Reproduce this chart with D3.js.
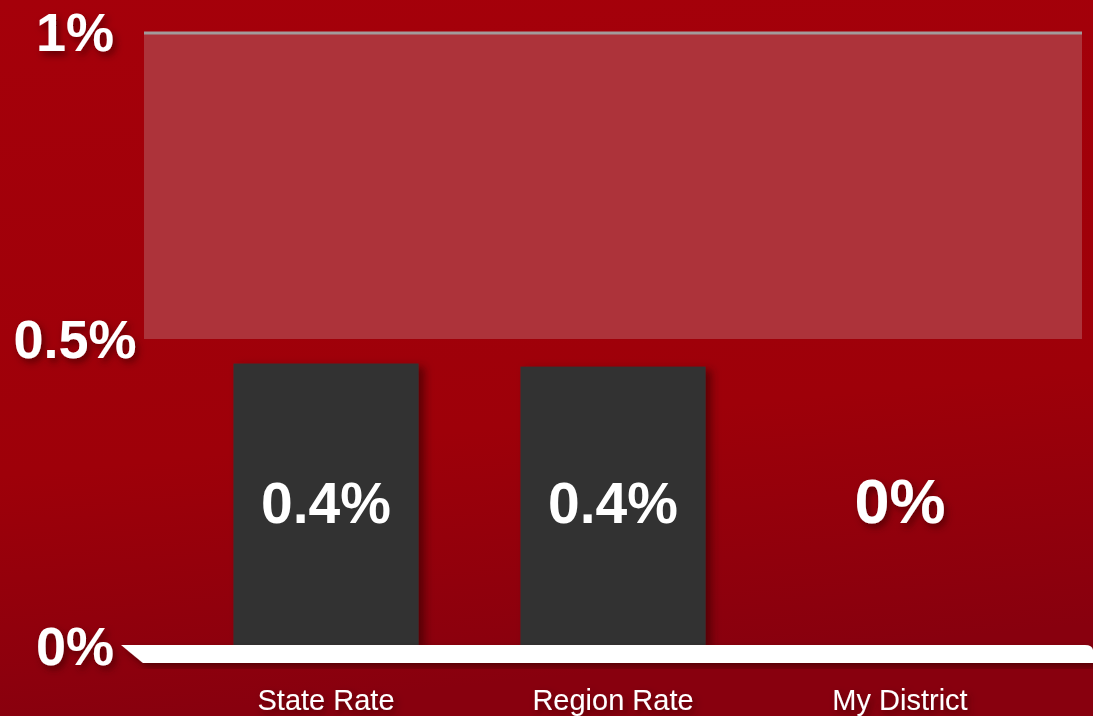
<!DOCTYPE html>
<html>
<head>
<meta charset="utf-8">
<script src="https://cdn.jsdelivr.net/npm/d3@7"></script>
<style>
  html, body { margin: 0; padding: 0; background: #a0000a; }
  svg { display: block; }
</style>
</head>
<body>
<script>
// chart data
const categories = ["State Rate", "Region Rate", "My District"];
const values = [0.46, 0.455, 0];
const valueLabels = ["0.4%", "0.4%", "0%"];
const yTicks = [0, 0.5, 1];
const yTickLabels = ["0%", "0.5%", "1%"];
const goalRange = [0.5, 1];

const width = 1093, height = 716;

const svg = d3.select("body").append("svg")
    .attr("width", width)
    .attr("height", height)
    .attr("font-family", "Arial, 'Liberation Sans', sans-serif");

const defs = svg.append("defs");

const bg = defs.append("linearGradient")
    .attr("id", "bg")
    .attr("x1", 0).attr("y1", 0).attr("x2", 0.15).attr("y2", 1);
bg.append("stop").attr("offset", "0%").attr("stop-color", "#a5000a");
bg.append("stop").attr("offset", "65%").attr("stop-color", "#9e0009");
bg.append("stop").attr("offset", "100%").attr("stop-color", "#88000e");

const shadow = defs.append("filter")
    .attr("id", "shadow")
    .attr("x", "-20%").attr("y", "-20%").attr("width", "140%").attr("height", "150%");
shadow.append("feDropShadow")
    .attr("dx", 3).attr("dy", 4).attr("stdDeviation", 3.5)
    .attr("flood-color", "#3a0000").attr("flood-opacity", 0.65);

const barShadow = defs.append("filter")
    .attr("id", "barShadow")
    .attr("x", "-10%").attr("y", "-10%").attr("width", "130%").attr("height", "130%");
barShadow.append("feDropShadow")
    .attr("dx", 6).attr("dy", 3).attr("stdDeviation", 4)
    .attr("flood-color", "#300000").attr("flood-opacity", 0.6);

svg.append("rect")
    .attr("width", width).attr("height", height)
    .attr("fill", "url(#bg)");

const x = d3.scaleBand()
    .domain(categories)
    .range([182.5, 1043.5])
    .paddingInner(0.355)
    .paddingOuter(0.1775);

const y = d3.scaleLinear()
    .domain([0, 1])
    .range([646, 32]);

// goal band 0.5% - 1%
svg.append("rect")
    .attr("x", 144)
    .attr("width", 1082 - 144)
    .attr("y", y(goalRange[1]))
    .attr("height", y(goalRange[0]) - y(goalRange[1]))
    .attr("fill", "#ad333a");

svg.append("line")
    .attr("x1", 144).attr("x2", 1082)
    .attr("y1", y(goalRange[1]) + 1).attr("y2", y(goalRange[1]) + 1)
    .attr("stroke", "#a39a9a")
    .attr("stroke-width", 3);

// bars
svg.append("g")
  .selectAll("rect")
  .data(values.map((v, i) => ({cat: categories[i], v})).filter(d => d.v > 0))
  .join("rect")
    .attr("x", d => x(d.cat))
    .attr("width", x.bandwidth())
    .attr("y", d => y(d.v))
    .attr("height", d => y(0) - y(d.v))
    .attr("fill", "#333333")
    .attr("filter", "url(#barShadow)");

// baseline
svg.append("path")
    .attr("d", `M121,${y(0) - 1} L1085,${y(0) - 1} Q1092,${y(0) - 1} 1093,${y(0) + 4} L1093,${y(0) + 17} L143,${y(0) + 17} Z`)
    .attr("fill", "#ffffff")
    .attr("filter", "url(#shadow)");

// value labels
svg.append("g")
  .selectAll("text")
  .data(valueLabels)
  .join("text")
    .attr("x", (d, i) => x(categories[i]) + x.bandwidth() / 2)
    .attr("y", 523)
    .attr("text-anchor", "middle")
    .attr("font-weight", "bold")
    .attr("font-size", (d, i) => values[i] > 0 ? 57 : 63)
    .attr("fill", "#ffffff")
    .attr("filter", (d, i) => values[i] > 0 ? null : "url(#shadow)")
    .text(d => d);

// y tick labels
svg.append("g")
  .selectAll("text")
  .data(yTicks)
  .join("text")
    .attr("x", 75)
    .attr("y", d => y(d) + 19)
    .attr("text-anchor", "middle")
    .attr("font-weight", "bold")
    .attr("font-size", 54)
    .attr("fill", "#ffffff")
    .attr("filter", "url(#shadow)")
    .text((d, i) => yTickLabels[i]);

// category labels
svg.append("g")
  .selectAll("text")
  .data(categories)
  .join("text")
    .attr("x", d => x(d) + x.bandwidth() / 2)
    .attr("y", 710)
    .attr("text-anchor", "middle")
    .attr("font-size", 29)
    .attr("fill", "#ffffff")
    .attr("filter", "url(#shadow)")
    .text(d => d);
</script>
</body>
</html>
